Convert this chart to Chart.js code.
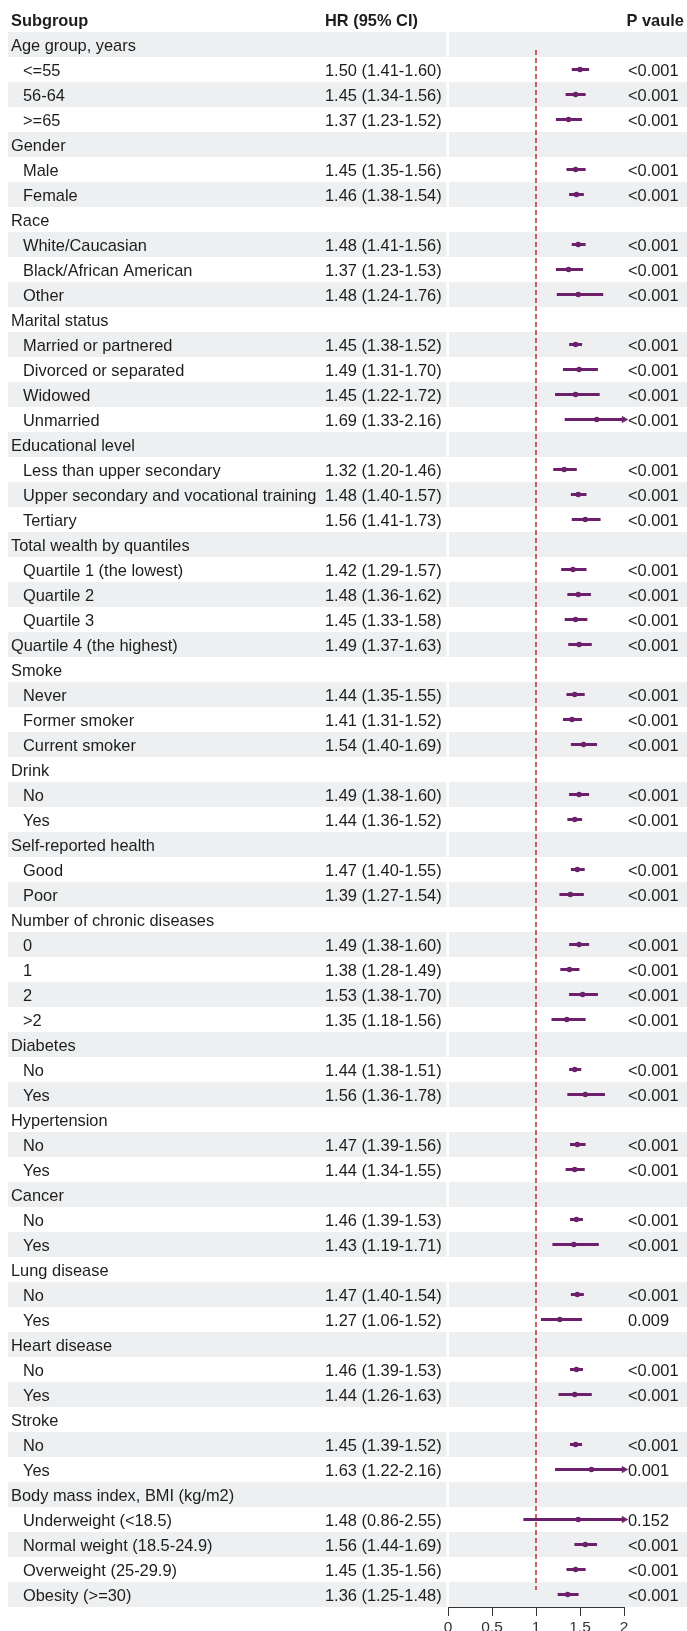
<!DOCTYPE html>
<html>
<head>
<meta charset="utf-8">
<title>Subgroup hazard ratios</title>
<script src="https://cdn.jsdelivr.net/npm/chart.js@4.4.1/dist/chart.umd.min.js"></script>
<style>
  html, body { margin: 0; padding: 0; background: #ffffff; }
  #wrap { width: 687px; height: 1631px; position: relative; }
  canvas { display: block; }
</style>
</head>
<body>
<div id="wrap"><canvas id="forest" width="687" height="1631"></canvas></div>
<script>
// ---- data -------------------------------------------------------------
const subgroups = [
  'Age group, years', '<=55', '56-64', '>=65',
  'Gender', 'Male', 'Female',
  'Race', 'White/Caucasian', 'Black/African American', 'Other',
  'Marital status', 'Married or partnered', 'Divorced or separated', 'Widowed', 'Unmarried',
  'Educational level', 'Less than upper secondary', 'Upper secondary and vocational training', 'Tertiary',
  'Total wealth by quantiles', 'Quartile 1 (the lowest)', 'Quartile 2', 'Quartile 3', 'Quartile 4 (the highest)',
  'Smoke', 'Never', 'Former smoker', 'Current smoker',
  'Drink', 'No', 'Yes',
  'Self-reported health', 'Good', 'Poor',
  'Number of chronic diseases', '0', '1', '2', '>2',
  'Diabetes', 'No', 'Yes',
  'Hypertension', 'No', 'Yes',
  'Cancer', 'No', 'Yes',
  'Lung disease', 'No', 'Yes',
  'Heart disease', 'No', 'Yes',
  'Stroke', 'No', 'Yes',
  'Body mass index, BMI (kg/m2)', 'Underweight (<18.5)', 'Normal weight (18.5-24.9)', 'Overweight (25-29.9)', 'Obesity (>=30)'
];

// 0 = heading level, 1 = indented level
const indentLevel = [
  0, 1, 1, 1,
  0, 1, 1,
  0, 1, 1, 1,
  0, 1, 1, 1, 1,
  0, 1, 1, 1,
  0, 1, 1, 1, 0,
  0, 1, 1, 1,
  0, 1, 1,
  0, 1, 1,
  0, 1, 1, 1, 1,
  0, 1, 1,
  0, 1, 1,
  0, 1, 1,
  0, 1, 1,
  0, 1, 1,
  0, 1, 1,
  0, 1, 1, 1, 1
];

const hr = [
  null, 1.50, 1.45, 1.37,
  null, 1.45, 1.46,
  null, 1.48, 1.37, 1.48,
  null, 1.45, 1.49, 1.45, 1.69,
  null, 1.32, 1.48, 1.56,
  null, 1.42, 1.48, 1.45, 1.49,
  null, 1.44, 1.41, 1.54,
  null, 1.49, 1.44,
  null, 1.47, 1.39,
  null, 1.49, 1.38, 1.53, 1.35,
  null, 1.44, 1.56,
  null, 1.47, 1.44,
  null, 1.46, 1.43,
  null, 1.47, 1.27,
  null, 1.46, 1.44,
  null, 1.45, 1.63,
  null, 1.48, 1.56, 1.45, 1.36
];

const ciLow = [
  null, 1.41, 1.34, 1.23,
  null, 1.35, 1.38,
  null, 1.41, 1.23, 1.24,
  null, 1.38, 1.31, 1.22, 1.33,
  null, 1.20, 1.40, 1.41,
  null, 1.29, 1.36, 1.33, 1.37,
  null, 1.35, 1.31, 1.40,
  null, 1.38, 1.36,
  null, 1.40, 1.27,
  null, 1.38, 1.28, 1.38, 1.18,
  null, 1.38, 1.36,
  null, 1.39, 1.34,
  null, 1.39, 1.19,
  null, 1.40, 1.06,
  null, 1.39, 1.26,
  null, 1.39, 1.22,
  null, 0.86, 1.44, 1.35, 1.25
];

const ciHigh = [
  null, 1.60, 1.56, 1.52,
  null, 1.56, 1.54,
  null, 1.56, 1.53, 1.76,
  null, 1.52, 1.70, 1.72, 2.16,
  null, 1.46, 1.57, 1.73,
  null, 1.57, 1.62, 1.58, 1.63,
  null, 1.55, 1.52, 1.69,
  null, 1.60, 1.52,
  null, 1.55, 1.54,
  null, 1.60, 1.49, 1.70, 1.56,
  null, 1.51, 1.78,
  null, 1.56, 1.55,
  null, 1.53, 1.71,
  null, 1.54, 1.52,
  null, 1.53, 1.63,
  null, 1.52, 2.16,
  null, 2.55, 1.69, 1.56, 1.48
];

const pValues = [
  '', '<0.001', '<0.001', '<0.001',
  '', '<0.001', '<0.001',
  '', '<0.001', '<0.001', '<0.001',
  '', '<0.001', '<0.001', '<0.001', '<0.001',
  '', '<0.001', '<0.001', '<0.001',
  '', '<0.001', '<0.001', '<0.001', '<0.001',
  '', '<0.001', '<0.001', '<0.001',
  '', '<0.001', '<0.001',
  '', '<0.001', '<0.001',
  '', '<0.001', '<0.001', '<0.001', '<0.001',
  '', '<0.001', '<0.001',
  '', '<0.001', '<0.001',
  '', '<0.001', '<0.001',
  '', '<0.001', '0.009',
  '', '<0.001', '<0.001',
  '', '<0.001', '0.001',
  '', '0.152', '<0.001', '<0.001', '<0.001'
];

const columnHeaders = ['Subgroup', 'HR (95% CI)', 'P vaule'];
const xTicks = [0, 0.5, 1, 1.5, 2];
const referenceHR = 1;

// ---- derived series ---------------------------------------------------
const axisMin = xTicks[0];
const axisMax = xTicks[xTicks.length - 1];
const lastRow = subgroups.length - 1;

const ciSegments = [];
const estimates = [];
const clippedArrows = [];
subgroups.forEach((_, i) => {
  if (hr[i] === null) return;
  ciSegments.push({ y: i, x: [Math.max(ciLow[i], axisMin), Math.min(ciHigh[i], axisMax)] });
  estimates.push({ x: hr[i], y: i });
  if (ciHigh[i] > axisMax) clippedArrows.push({ x: axisMax, y: i });
});

const hrLabel = i => `${hr[i].toFixed(2)} (${ciLow[i].toFixed(2)}-${ciHigh[i].toFixed(2)})`;

// ---- styling ----------------------------------------------------------
const FONT = "'Liberation Sans', Arial, Helvetica, sans-serif";
const TEXT_COLOR = '#1d1d1d';
const MARK_COLOR = '#6c1f6a';
const STRIPE_COLOR = '#edeff0';
const REF_COLOR = '#c43a3a';

const col = { subgroup: 11, indent: 23, hr: 325, p: 628 };

// zebra stripes behind every other row, split at the plot column
const rowStripes = {
  id: 'rowStripes',
  beforeDraw(chart) {
    const { ctx, chartArea, scales: { y } } = chart;
    ctx.save();
    ctx.fillStyle = STRIPE_COLOR;
    subgroups.forEach((_, i) => {
      if (i % 2 !== 0) return;
      const a = y.getPixelForValue(i - 0.5);
      const b = y.getPixelForValue(i + 0.5);
      const top = Math.min(a, b), h = Math.abs(b - a);
      ctx.fillRect(8, top, chartArea.left - 1.5 - 8, h);
      ctx.fillRect(chartArea.left + 1, top, chart.width - chartArea.left - 1, h);
    });
    ctx.restore();
  }
};

// table text: subgroup names, HR (95% CI) and P values
const tableText = {
  id: 'tableText',
  afterDatasetsDraw(chart) {
    const { ctx, scales: { y } } = chart;
    ctx.save();
    ctx.fillStyle = TEXT_COLOR;
    ctx.textBaseline = 'alphabetic';
    ctx.textAlign = 'left';

    ctx.font = `bold 16.4px ${FONT}`;
    ctx.fillText(columnHeaders[0], col.subgroup, 25.5);
    ctx.fillText(columnHeaders[1], col.hr, 25.5);
    ctx.fillText(columnHeaders[2], col.p - 1.5, 25.5);

    ctx.font = `16.4px ${FONT}`;
    subgroups.forEach((name, i) => {
      const yc = y.getPixelForValue(i) + 6.5;
      ctx.fillText(name, indentLevel[i] ? col.indent : col.subgroup, yc);
      if (hr[i] !== null) {
        ctx.fillText(hrLabel(i), col.hr, yc);
        ctx.fillText(pValues[i], col.p, yc);
      }
    });
    ctx.restore();
  }
};

new Chart(document.getElementById('forest'), {
  type: 'bar',
  data: {
    datasets: [
      {
        type: 'line',
        label: 'reference',
        data: [{ x: referenceHR, y: 0.22 }, { x: referenceHR, y: lastRow - 0.18 }],
        borderColor: REF_COLOR,
        borderWidth: 1.6,
        borderDash: [5, 3],
        pointRadius: 0,
        order: 3
      },
      {
        type: 'bar',
        label: '95% CI',
        data: ciSegments,
        backgroundColor: MARK_COLOR,
        borderWidth: 0,
        barThickness: 2.4,
        order: 2
      },
      {
        type: 'scatter',
        label: 'HR',
        data: estimates,
        backgroundColor: MARK_COLOR,
        borderWidth: 0,
        pointRadius: 2.8,
        pointHoverRadius: 2.8,
        order: 1
      },
      {
        type: 'scatter',
        label: 'CI beyond axis',
        data: clippedArrows,
        pointBackgroundColor: MARK_COLOR,
        pointBorderColor: MARK_COLOR,
        pointBorderWidth: 0.8,
        pointStyle: 'triangle',
        pointRotation: 90,
        pointRadius: 3.6,
        pointHoverRadius: 3.6,
        clip: 8,
        order: 0
      }
    ]
  },
  options: {
    indexAxis: 'y',
    responsive: false,
    animation: false,
    devicePixelRatio: 1,
    layout: { padding: { left: 448, right: 63, top: 32, bottom: 0 } },
    plugins: { legend: { display: false }, tooltip: { enabled: false } },
    scales: {
      x: {
        type: 'linear',
        position: 'bottom',
        min: axisMin,
        max: axisMax,
        offset: false,
        afterFit(scale) { scale.height = 24; },
        afterBuildTicks(scale) { scale.ticks = xTicks.map(v => ({ value: v })); },
        ticks: {
          font: { family: FONT, size: 15.5 },
          color: '#333333',
          padding: 2,
          maxRotation: 0,
          callback: v => String(v)
        },
        grid: { display: true, drawOnChartArea: false, drawTicks: true, tickLength: 9, color: '#333333', lineWidth: 1 },
        border: { display: true, color: '#333333', width: 1 }
      },
      y: {
        type: 'linear',
        display: false,
        reverse: true,
        min: -0.5,
        max: lastRow + 0.5,
        offset: false,
        grid: { display: false }
      }
    }
  },
  plugins: [rowStripes, tableText]
});
</script>
</body>
</html>
